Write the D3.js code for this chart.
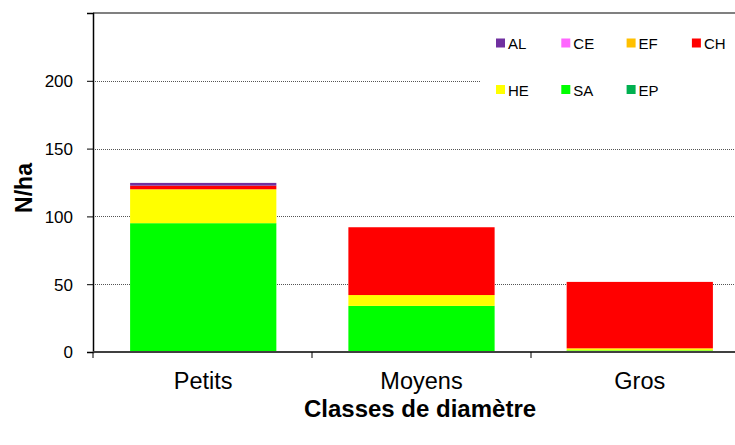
<!DOCTYPE html>
<html>
<head>
<meta charset="utf-8">
<script src="https://cdn.jsdelivr.net/npm/d3@7"></script>
<style>
  body { margin: 0; background: #fff; }
  svg { display: block; font-family: "Liberation Sans", Arial, sans-serif; }
</style>
</head>
<body>
<div id="chart"></div>
<script>
// ---- data ----
const categories = ["Petits", "Moyens", "Gros"];
const species    = ["AL", "CE", "EF", "CH", "HE", "SA", "EP"];   // legend order
const colors     = ["#7030a0", "#ff66ff", "#ffc000", "#ff0000", "#ffff00", "#00ff00", "#00b050"];
const valAL = [2,   0,  0];
const valCE = [0,   0,  0];
const valEF = [0,   0,  0];
const valCH = [2.7, 50, 49];
const valHE = [25,  8,  1.5];
const valSA = [95,  34, 1.2];
const valEP = [0,   0,  0];
const yTicks = [0, 50, 100, 150, 200];

const values = {AL: valAL, CE: valCE, EF: valEF, CH: valCH, HE: valHE, SA: valSA, EP: valEP};
const rows = categories.map((c, i) => {
  const r = {cat: c};
  species.forEach(s => r[s] = values[s][i]);
  return r;
});

// ---- layout ----
const W = 735, H = 445;
const m = {left: 93, top: 13, right: 750, bottom: 352};

const svg = d3.select("#chart").append("svg")
  .attr("width", W).attr("height", H);

const x = d3.scaleBand().domain(categories).range([m.left, m.right]).paddingInner(0.33).paddingOuter(0.17);
const y = d3.scaleLinear().domain([0, 250]).range([m.bottom, m.top]);

// gridlines
svg.append("g").selectAll("line")
  .data(yTicks.filter(d => d > 0))
  .enter().append("line")
  .attr("x1", m.left).attr("x2", W)
  .attr("y1", d => Math.round(y(d)) + 0.5).attr("y2", d => Math.round(y(d)) + 0.5)
  .attr("stroke", "#555").attr("stroke-width", 1).attr("stroke-dasharray", "1,1");

// top border
svg.append("line")
  .attr("x1", m.left).attr("x2", W).attr("y1", m.top).attr("y2", m.top)
  .attr("stroke", "#808080").attr("stroke-width", 2);

// stacked bars: SA at bottom, AL on top
const stackOrder = species.slice().reverse();
const stacked = d3.stack().keys(stackOrder)(rows);
const colorOf = d3.scaleOrdinal().domain(species).range(colors);

svg.append("g").selectAll("g")
  .data(stacked)
  .enter().append("g")
  .attr("fill", d => colorOf(d.key))
  .selectAll("rect")
  .data(d => d)
  .enter().append("rect")
  .attr("x", d => x(d.data.cat))
  .attr("width", x.bandwidth())
  .attr("y", d => y(d[1]))
  .attr("height", d => y(d[0]) - y(d[1]));

// axes
const yAxis = svg.append("g")
  .attr("transform", `translate(${m.left},0)`)
  .call(d3.axisLeft(y).tickValues(yTicks).tickSize(6).tickPadding(14));
yAxis.attr("font-size", 17).attr("font-family", null);
yAxis.select(".domain").attr("stroke", "#000").attr("stroke-width", 1.5);
yAxis.selectAll("text").attr("fill", "#000").attr("dy", "0.35em");

const bounds = [0, 1, 2, 3].map(i => m.left + i * (m.right - m.left) / 3);
svg.append("line")
  .attr("x1", m.left).attr("x2", W).attr("y1", m.bottom).attr("y2", m.bottom)
  .attr("stroke", "#404040").attr("stroke-width", 2);
svg.append("g").selectAll("line")
  .data(bounds)
  .enter().append("line")
  .attr("x1", d => d).attr("x2", d => d)
  .attr("y1", m.bottom).attr("y2", m.bottom + 6)
  .attr("stroke", "#000");

svg.append("g").selectAll("text")
  .data(categories)
  .enter().append("text")
  .attr("x", d => x(d) + x.bandwidth() / 2)
  .attr("y", 389)
  .attr("text-anchor", "middle")
  .style("font-size", "23.5px")
  .text(d => d);

// axis titles
svg.append("text")
  .attr("x", 420).attr("y", 417)
  .attr("text-anchor", "middle")
  .style("font-size", "24px").style("font-weight", "bold")
  .text("Classes de diamètre");

svg.append("text")
  .attr("transform", "translate(32,188) rotate(-90)")
  .attr("text-anchor", "middle")
  .style("font-size", "23px").style("font-weight", "bold")
  .text("N/ha");

// legend
const lg = svg.append("g");
lg.append("rect")
  .attr("x", 481).attr("y", 20).attr("width", W - 481).attr("height", 90)
  .attr("fill", "#fff");
const item = lg.selectAll("g")
  .data(species)
  .enter().append("g")
  .attr("transform", (d, i) => `translate(${496 + (i % 4) * 65.3},${i < 4 ? 38.5 : 85})`);
item.append("rect")
  .attr("width", 9).attr("height", 9)
  .attr("fill", d => colorOf(d));
item.append("text")
  .attr("x", 12).attr("y", 10.5)
  .style("font-size", "15px")
  .text(d => d);
</script>
</body>
</html>
